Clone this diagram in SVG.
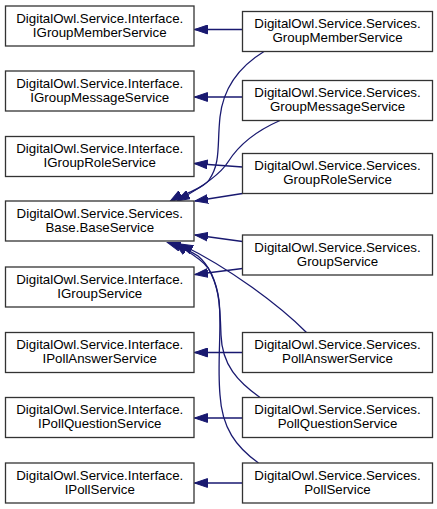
<svg xmlns="http://www.w3.org/2000/svg" width="437" height="509" viewBox="0 0 437 509">
<defs>
<style>
.box{fill:#ffffff;stroke:#333333;stroke-width:1.3}
.lbl{font-family:"Liberation Sans",Arial,Helvetica,sans-serif;font-size:13.3px;fill:#000000;text-anchor:middle}
.edge{fill:none;stroke:#191970;stroke-width:1.3;marker-end:url(#ah)}
</style>
<marker id="ah" markerUnits="userSpaceOnUse" markerWidth="14" markerHeight="10" refX="13" refY="5" orient="auto">
<path d="M0,0.6 L13,5 L0,9.4 z" fill="#191970" stroke="#191970" stroke-width="1"/>
</marker>
</defs>
<rect width="437" height="509" fill="#ffffff"/>

<g id="connectors">
<path class="edge" d="M242.5,29.5 L194.5,29.5"/>
<path class="edge" d="M242.5,97 L194.5,97"/>
<path class="edge" d="M242.5,167 L194.5,163.5"/>
<path class="edge" d="M242.5,193.5 L195,201"/>
<path class="edge" d="M242.5,241.5 L195,235"/>
<path class="edge" d="M242.5,268.5 L195,274.5"/>
<path class="edge" d="M242.5,352.5 L194.5,352.5"/>
<path class="edge" d="M242.5,418 L194.5,418"/>
<path class="edge" d="M242.5,483 L194.5,483"/>
<path class="edge" d="M264,51.5 C237,68 223,90 220,117 C217,145 221,163 209,180 C203,189 182,194 170,201.5"/>
<path class="edge" d="M280,120.5 C256,131 238,146 228,162 C220,175 195,191 177,201"/>
<path class="edge" d="M306.5,332.5 C280,306 230,268 180,244"/>
<path class="edge" d="M260,397.5 C238,382 222,365 221,335 C220,300 218,285 208,268 C200,257 185,250.5 175,243.5"/>
<path class="edge" d="M258.5,463 C236,447 222,428 220,395 C217,360 222,330 219,300 C216,280 210,266 198,256 C188,249 178,246 167.5,242.5"/>
</g>

<g id="IGroupMemberService">
<rect class="box" x="5.5" y="6" width="188.5" height="40"/>
<text class="lbl" x="99.75" y="22.5">DigitalOwl.Service.Interface.</text>
<text class="lbl" x="99.75" y="36.5">IGroupMemberService</text>
</g>
<g id="IGroupMessageService">
<rect class="box" x="5.5" y="71" width="188.5" height="40"/>
<text class="lbl" x="99.75" y="87.5">DigitalOwl.Service.Interface.</text>
<text class="lbl" x="99.75" y="101.5">IGroupMessageService</text>
</g>
<g id="IGroupRoleService">
<rect class="box" x="5.5" y="136.5" width="188.5" height="40"/>
<text class="lbl" x="99.75" y="153">DigitalOwl.Service.Interface.</text>
<text class="lbl" x="99.75" y="167">IGroupRoleService</text>
</g>
<g id="BaseService">
<rect class="box" x="5.5" y="201" width="188.5" height="40"/>
<text class="lbl" x="99.75" y="217.5">DigitalOwl.Service.Services.</text>
<text class="lbl" x="99.75" y="231.5">Base.BaseService</text>
</g>
<g id="IGroupService">
<rect class="box" x="5.5" y="267" width="188.5" height="40"/>
<text class="lbl" x="99.75" y="283.5">DigitalOwl.Service.Interface.</text>
<text class="lbl" x="99.75" y="297.5">IGroupService</text>
</g>
<g id="IPollAnswerService">
<rect class="box" x="5.5" y="332.5" width="188.5" height="40"/>
<text class="lbl" x="99.75" y="349">DigitalOwl.Service.Interface.</text>
<text class="lbl" x="99.75" y="363">IPollAnswerService</text>
</g>
<g id="IPollQuestionService">
<rect class="box" x="5.5" y="397.5" width="188.5" height="40"/>
<text class="lbl" x="99.75" y="414">DigitalOwl.Service.Interface.</text>
<text class="lbl" x="99.75" y="428">IPollQuestionService</text>
</g>
<g id="IPollService">
<rect class="box" x="5.5" y="463" width="188.5" height="40"/>
<text class="lbl" x="99.75" y="479.5">DigitalOwl.Service.Interface.</text>
<text class="lbl" x="99.75" y="493.5">IPollService</text>
</g>

<g id="GroupMemberService">
<rect class="box" x="242.5" y="11.5" width="190" height="40"/>
<text class="lbl" x="337.5" y="28">DigitalOwl.Service.Services.</text>
<text class="lbl" x="337.5" y="42">GroupMemberService</text>
</g>
<g id="GroupMessageService">
<rect class="box" x="242.5" y="80.5" width="190" height="40"/>
<text class="lbl" x="337.5" y="97">DigitalOwl.Service.Services.</text>
<text class="lbl" x="337.5" y="111">GroupMessageService</text>
</g>
<g id="GroupRoleService">
<rect class="box" x="242.5" y="153.5" width="190" height="40"/>
<text class="lbl" x="337.5" y="170">DigitalOwl.Service.Services.</text>
<text class="lbl" x="337.5" y="184">GroupRoleService</text>
</g>
<g id="GroupService">
<rect class="box" x="242.5" y="235" width="190" height="40"/>
<text class="lbl" x="337.5" y="251.5">DigitalOwl.Service.Services.</text>
<text class="lbl" x="337.5" y="265.5">GroupService</text>
</g>
<g id="PollAnswerService">
<rect class="box" x="242.5" y="332.5" width="190" height="40"/>
<text class="lbl" x="337.5" y="349">DigitalOwl.Service.Services.</text>
<text class="lbl" x="337.5" y="363">PollAnswerService</text>
</g>
<g id="PollQuestionService">
<rect class="box" x="242.5" y="397.5" width="190" height="40"/>
<text class="lbl" x="337.5" y="414">DigitalOwl.Service.Services.</text>
<text class="lbl" x="337.5" y="428">PollQuestionService</text>
</g>
<g id="PollService">
<rect class="box" x="242.5" y="463" width="190" height="40"/>
<text class="lbl" x="337.5" y="479.5">DigitalOwl.Service.Services.</text>
<text class="lbl" x="337.5" y="493.5">PollService</text>
</g>
</svg>
